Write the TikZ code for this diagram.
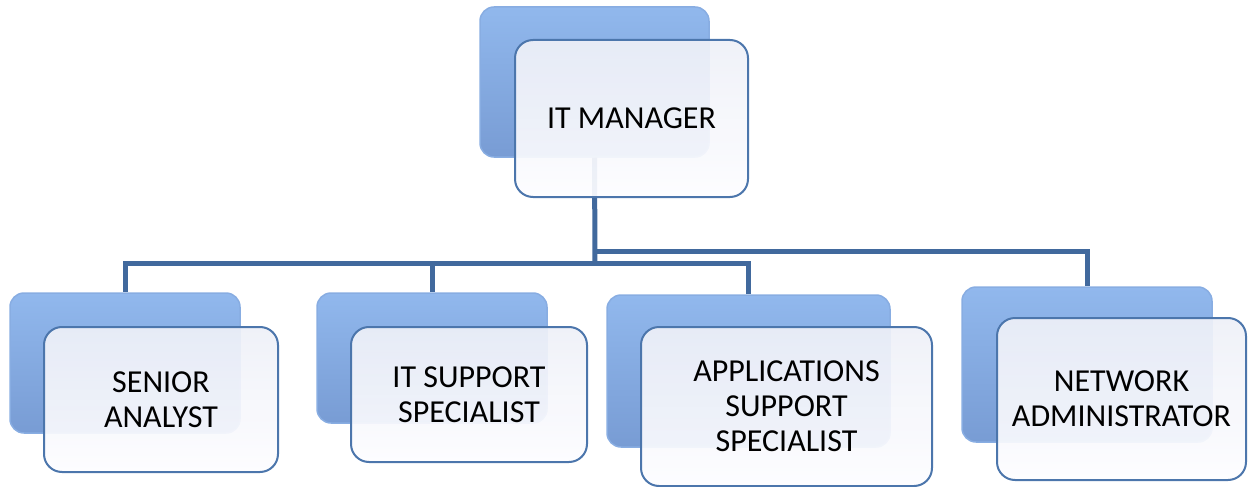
\documentclass[tikz,border=0pt]{standalone}
\usepackage{fontspec}
\setmainfont{Carlito}
\usetikzlibrary{calc}
\definecolor{linkblue}{HTML}{41699D}
\definecolor{backtop}{HTML}{91B8ED}
\definecolor{backbot}{HTML}{789CD4}
\definecolor{backedge}{HTML}{88ADE2}
\definecolor{fronttop}{HTML}{EEF0F8}
\definecolor{frontbot}{HTML}{FDFDFF}
\definecolor{frontedge}{HTML}{4C76AC}
\tikzset{
	backbox/.style={rounded corners=14pt, top color=backtop, bottom color=backbot, draw=backedge, line width=1.5pt, inner sep=0pt},
	frontbox/.style={rounded corners=18pt, top color=fronttop, bottom color=frontbot, draw=frontedge, line width=2pt, fill opacity=0.93, text opacity=1, align=center, font=\fontsize{32}{35}\selectfont, inner sep=0pt},
	link/.style={line width=5pt, color=linkblue},
}

\begin{document}
\begin{tikzpicture}[x=1pt, y=-1pt]
		%%%%% START %%%%%
		\useasboundingbox (0, 0) rectangle (1248, 487);
		
		\coordinate (hi) at (595, 251);
		\coordinate (lo) at (595, 263);
		
		% back boxes
		\node[backbox, minimum width=229, minimum height=150] (mgrb) at (594.5, 82) {};
		\node[backbox, minimum width=230, minimum height=140] (sab) at (125, 363) {};
		\node[backbox, minimum width=230, minimum height=130] (itsb) at (432, 358) {};
		\node[backbox, minimum width=283, minimum height=152] (aspb) at (748.5, 371) {};
		\node[backbox, minimum width=250, minimum height=155] (nab) at (1087, 364.5) {};
		
		% links
		\draw[link] (mgrb.south) -- (lo);
		\draw[link] (hi) -| (nab.north);
		\draw[link] (lo) -| (sab.north);
		\draw[link] (lo) -| (itsb.north);
		\draw[link] (lo) -| (aspb.north);
		
		% front boxes
		\node[frontbox, minimum width=233, minimum height=157] (mgr) at (631.5, 118.5) {IT MANAGER};
		\node[frontbox, minimum width=234, minimum height=145] (sa) at (161, 399.5) {SENIOR\\ANALYST};
		\node[frontbox, minimum width=236, minimum height=135] (its) at (469, 394.5) {IT SUPPORT\\SPECIALIST};
		\node[frontbox, minimum width=291, minimum height=159] (asp) at (786.5, 406.5) {APPLICATIONS\\SUPPORT\\SPECIALIST};
		\node[frontbox, minimum width=249, minimum height=162] (na) at (1121.5, 399) {NETWORK\\ADMINISTRATOR};
		
		%%%%% END %%%%%
	\end{tikzpicture}
\end{document}
